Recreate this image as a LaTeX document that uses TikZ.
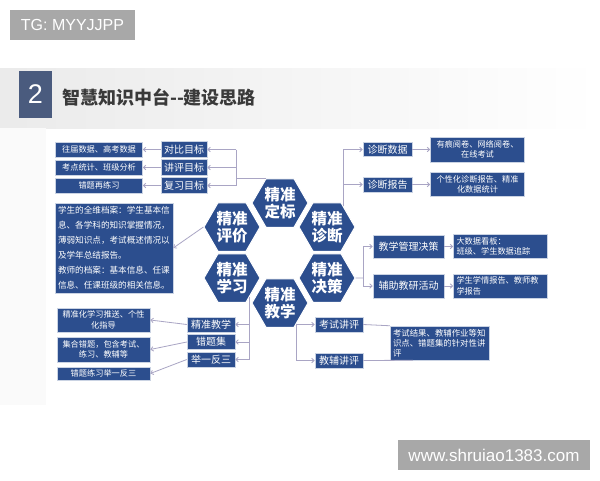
\documentclass[tikz,border=0pt]{standalone}
\usepackage{fontspec}
\setmainfont{Noto Sans CJK SC}
\newfontfamily\latinfont{Liberation Sans}
\usepackage{tikz}
\usetikzlibrary{shapes.geometric, arrows.meta, positioning, calc}
\definecolor{boxblue}{HTML}{2C4E8E}
\definecolor{numblue}{HTML}{4A5B7E}
\definecolor{linkgray}{HTML}{A9A5C4}
\definecolor{tggray}{HTML}{A8A8A8}
\definecolor{titlegray}{HTML}{3A3A3A}
\tikzset{
  hexa/.style={
    regular polygon, regular polygon sides=6,
    minimum size=56pt, inner sep=0pt,
    fill=boxblue, draw=white, line width=1pt,
    text=white, align=center,
    font=\fontsize{15.5}{17}\selectfont\bfseries,
  },
  tagbox/.style={
    rectangle, minimum width=46pt, minimum height=16pt, inner sep=1pt,
    fill=boxblue, draw=white!75!boxblue, line width=0.5pt,
    text=white, font=\fontsize{10}{12}\selectfont,
  },
  databox/.style={
    rectangle, inner sep=1pt, align=center,
    fill=boxblue, draw=white!75!boxblue, line width=0.5pt,
    text=white, font=\fontsize{8.2}{10.5}\selectfont,
  },
  notebox/.style={
    databox, align=left, inner sep=3pt,
  },
  grey tag/.style={
    rectangle, fill=tggray, text=white, inner sep=0pt,
  },
  conn/.style={draw=linkgray, line width=0.8pt},
  arrow/.style={conn, -{Straight Barb[length=2.5pt, width=4.5pt]}},
}

\begin{document}
\begin{tikzpicture}[x=1pt, y=-1pt]

  \useasboundingbox (0,0) rectangle (600,480);
  \fill[white] (0,0) rectangle (600,480);
  \fill[left color=black!8, right color=white] (0,68) rectangle (600,128);
  \fill[black!2] (0,128) rectangle (46,405);

  \node[grey tag, minimum width=125pt, minimum height=30pt,
        font=\latinfont\fontsize{16}{18}\selectfont] (tg) at (72.5,25) {TG: MYYJJPP};
  \node[rectangle, fill=numblue, minimum width=33pt, minimum height=47pt,
        text=white, font=\latinfont\fontsize{27}{30}\selectfont] (num) at (35.5,94.5) {2};
  \node[anchor=west, text=titlegray, inner sep=0pt,
        font=\fontsize{18}{20}\selectfont\bfseries] (title) at (62,97) {智慧知识中台{-}{-}建设思路};

  % hexagons
  \node[hexa] (hd) at (280,203) {精准\\定标};
  \node[hexa] (hp) at (232,227) {精准\\评价};
  \node[hexa] (hz) at (327,227) {精准\\诊断};
  \node[hexa] (hx) at (232,278) {精准\\学习};
  \node[hexa] (hc) at (327,278) {精准\\决策};
  \node[hexa] (hj) at (280,303) {精准\\教学};

  % top left
  \node[tagbox] (cmp) at (184,149.5) {对比目标};
  \node[tagbox, below=1.5pt of cmp] (rev) {讲评目标};
  \node[tagbox, below=1.5pt of rev] (rep) {复习目标};
  \node[databox, minimum width=87pt, minimum height=15pt, left=18pt of cmp] (d1) {往届数据、高考数据};
  \node[databox, minimum width=87pt, minimum height=15pt, left=18pt of rev] (d2) {考点统计、班级分析};
  \node[databox, minimum width=87pt, minimum height=15pt, left=18pt of rep] (d3) {错题再练习};

  \node[notebox, text width=112pt, minimum height=90pt,
        font=\fontsize{8.6}{15}\selectfont] (prof) at (114,248)
    {学生的全维档案：学生基本信\\息、各学科的知识掌握情况，\\薄弱知识点，考试概述情况以\\及学年总结报告。\\教师的档案：基本信息、任课\\信息、任课班级的相关信息。};

  % bottom left
  \node[tagbox, minimum width=48pt, minimum height=15pt] (tx1) at (211,324.5) {精准教学};
  \node[tagbox, minimum width=48pt, minimum height=15pt, below=2pt of tx1] (tx2) {错题集};
  \node[tagbox, minimum width=48pt, minimum height=15pt, below=2pt of tx2] (tx3) {举一反三};
  \node[databox, minimum width=93pt, minimum height=24pt] (b1) at (103.5,320) {精准化学习推送、个性\\化指导};
  \node[databox, minimum width=93pt, minimum height=25pt] (b2) at (103.5,349.5) {集合错题，包含考试、\\练习、教辅等};
  \node[databox, minimum width=93pt, minimum height=13pt] (b3) at (103.5,373.5) {错题练习举一反三};

  % top right
  \node[tagbox, minimum width=49pt, minimum height=14pt] (dg1) at (387.5,149.5) {诊断数据};
  \node[tagbox, minimum width=49pt, minimum height=15pt] (dg2) at (387.5,184.5) {诊断报告};
  \node[databox, minimum width=94pt, minimum height=25pt, right=18pt of dg1] (r1) {有痕阅卷、网络阅卷、\\在线考试};
  \node[databox, minimum width=94pt, minimum height=24pt, right=18pt of dg2] (r2) {个性化诊断报告、精准\\化数据统计};

  % middle right
  \node[tagbox, minimum width=71pt, minimum height=23pt] (j1) at (408.5,246.5) {教学管理决策};
  \node[tagbox, minimum width=71pt, minimum height=24pt] (j2) at (408.5,286) {辅助教研活动};
  \node[notebox, text width=88pt, minimum height=23pt, right=9pt of j1] (k1) {大数据看板：\\班级、学生数据追踪};
  \node[notebox, text width=88pt, minimum height=24pt, right=9pt of j2] (k2) {学生学情报告、教师教\\学报告};

  % bottom right
  \node[tagbox, minimum width=48pt, minimum height=15pt] (p1) at (339,324.5) {考试讲评};
  \node[tagbox, minimum width=48pt, minimum height=15pt] (p2) at (339,360.5) {教辅讲评};
  \node[notebox, text width=93pt, minimum height=34pt, font=\fontsize{8.4}{10}\selectfont] (q) at (439.5,343)
    {考试结果、教辅作业等知\\识点、错题集的针对性讲\\评};

  \node[grey tag, minimum width=192pt, minimum height=30pt,
        font=\latinfont\fontsize{17}{19}\selectfont] (site) at (494,455) {www.shruiao1383.com};

  % connectors
  \coordinate (dtrunk) at (236,149.5);
  \draw[conn] (hd.120) -| (dtrunk);
  \draw[conn] (dtrunk) -- (dtrunk |- rep.east);
  \draw[arrow] (dtrunk) -- (cmp.east);
  \draw[arrow] (dtrunk |- rev.east) -- (rev.east);
  \draw[arrow] (dtrunk |- rep.east) -- (rep.east);
  \draw[arrow] (cmp.west) -- (d1.east);
  \draw[arrow] (rev.west) -- (d2.east);
  \draw[arrow] (rep.west) -- (d3.east);

  \draw[arrow] (hp.180) -- (prof.east);

  \draw[conn] (hx.-48) -- (hx.-48 |- tx3.east);
  \draw[arrow] (hx.-48 |- tx1.east) -- (tx1.east);
  \draw[arrow] (hx.-48 |- tx2.east) -- (tx2.east);
  \draw[arrow] (hx.-48 |- tx3.east) -- (tx3.east);
  \draw[arrow] (tx1.west) -- (b1.east);
  \draw[arrow] (tx2.west) -- (b2.east);
  \draw[arrow] (tx3.west) -- (b3.east);

  \draw[conn] (hz.52) -- (hz.52 |- dg1.west);
  \draw[arrow] (hz.52 |- dg1.west) -- (dg1.west);
  \draw[arrow] (hz.52 |- dg2.west) -- (dg2.west);
  \draw[arrow] (dg1.east) -- (r1.west);
  \draw[arrow] (dg2.east) -- (r2.west);

  \coordinate (ctrunk) at (363,278);
  \draw[conn] (hc.0) -- (ctrunk);
  \draw[conn] (ctrunk |- j1.west) -- (ctrunk |- j2.west);
  \draw[arrow] (ctrunk |- j1.west) -- (j1.west);
  \draw[arrow] (ctrunk |- j2.west) -- (j2.west);
  \draw[arrow] (j1.east) -- (k1.west);
  \draw[arrow] (j2.east) -- (k2.west);

  \draw[conn] (hj.-52) -- (hj.-52 |- p2.west);
  \draw[arrow] (hj.-52 |- p1.west) -- (p1.west);
  \draw[arrow] (hj.-52 |- p2.west) -- (p2.west);
  \draw[conn] (p1.east) -- (q.north west);
  \draw[conn] (p2.east) -- ([xshift=23pt]q.south west);

\end{tikzpicture}
\end{document}
